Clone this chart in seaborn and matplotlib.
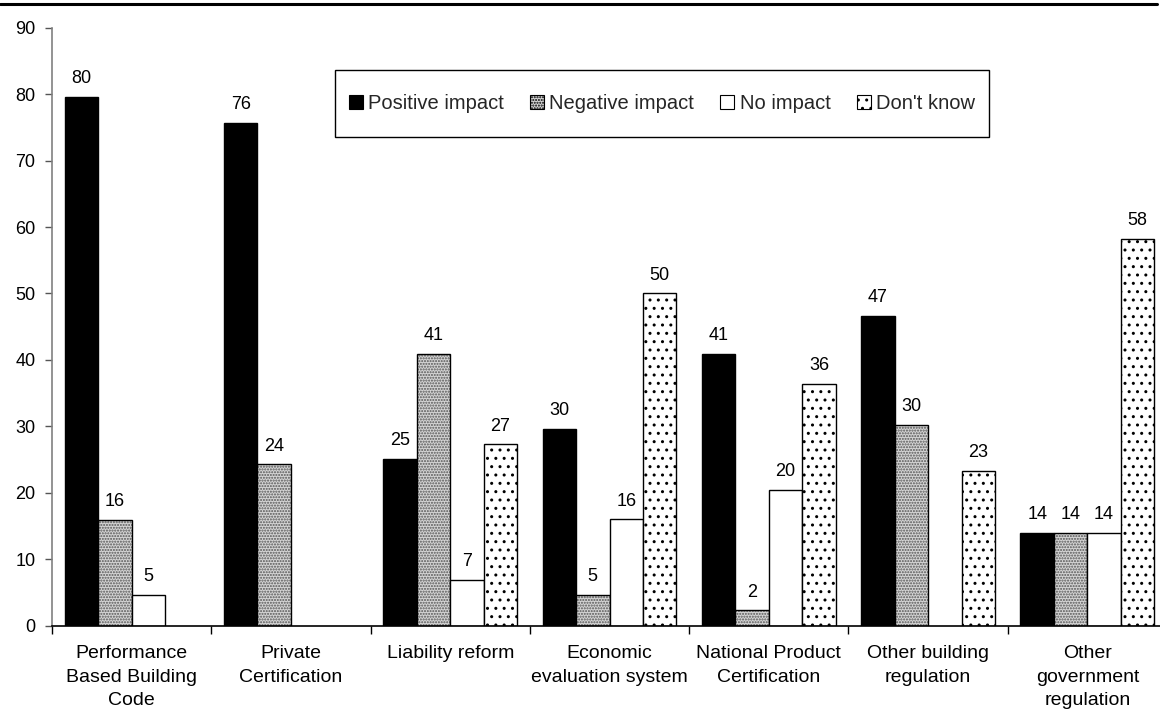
import matplotlib
matplotlib.use("Agg")
import matplotlib.pyplot as plt
from matplotlib.patches import Patch, Rectangle
from matplotlib.lines import Line2D
import seaborn as sns
import pandas as pd
import numpy as np

categories = [
    "Performance\nBased Building\nCode",
    "Private\nCertification",
    "Liability reform",
    "Economic\nevaluation system",
    "National Product\nCertification",
    "Other building\nregulation",
    "Other\ngovernment\nregulation",
]
series = ["Positive impact", "Negative impact", "No impact", "Don't know"]
positive = [79.6, 75.7, 25.1, 29.6, 40.9, 46.6, 14.0]
negative = [15.9, 24.3, 40.9, 4.6, 2.3, 30.2, 14.0]
no_impact = [4.6, 0.0, 6.9, 16.0, 20.4, 0.0, 14.0]
dont_know = [0.0, 0.0, 27.3, 50.0, 36.4, 23.3, 58.2]
y_ticks = list(range(0, 91, 10))

values = [positive, negative, no_impact, dont_know]
df = pd.DataFrame(
    [(c, s, v) for s, vals in zip(series, values) for c, v in zip(categories, vals)],
    columns=["category", "series", "value"],
)

sns.set_theme(style="white")
plt.rcParams["font.family"] = ["Liberation Sans", "DejaVu Sans"]
plt.rcParams["hatch.linewidth"] = 1.0

W, H = 1160, 712
fig = plt.figure(figsize=(W / 100, H / 100), dpi=100)
ax = fig.add_axes([52 / W, 1 - 625.7 / H, (1167 - 52) / W, (625.7 - 27.7) / H])

faces = ["black", "#d4d4d4", "white", "white"]
hatches = [None, "......", None, ".."]
hatch_colors = ["black", "#555555", "black", "black"]

sns.barplot(
    data=df, x="category", y="value", hue="series", order=categories,
    hue_order=series, palette=faces, width=0.84, errorbar=None,
    edgecolor="black", linewidth=1.0, saturation=1, legend=False, ax=ax,
)

for container, face, hatch, hc, vals in zip(ax.containers, faces, hatches, hatch_colors, values):
    for bar, v in zip(container, vals):
        bar.set_facecolor(face)
        bar.set_edgecolor("black")
        if hatch:
            bar.set_hatch(hatch)
            bar._hatch_color = matplotlib.colors.to_rgba(hc)
        if v == 0:
            bar.set_visible(False)
    labels = [f"{v:.0f}" if v > 0 else "" for v in vals]
    ax.bar_label(container, labels=labels, padding=7, fontsize=13, color="black")

ax.set_ylim(0, 90)
ax.set_xlim(-0.5, len(categories) - 0.5)
ax.set_yticks(y_ticks)
ax.tick_params(axis="y", which="major", left=True, length=5, width=1, color="#555555",
               labelsize=13, pad=7, labelcolor="black")
ax.set_xticks(range(len(categories)))
ax.set_xticklabels(categories, fontsize=14, linespacing=1.5)
ax.tick_params(axis="x", which="major", bottom=False, length=0, pad=14, labelcolor="black")
ax.set_xticks(np.arange(-0.5, len(categories), 1.0), minor=True)
ax.tick_params(axis="x", which="minor", bottom=True, length=6, width=1, color="black")
ax.set_xlabel("")
ax.set_ylabel("")

for side in ["top", "right"]:
    ax.spines[side].set_visible(False)
ax.spines["left"].set_color("#808080")
ax.spines["left"].set_linewidth(1.2)
ax.spines["bottom"].set_color("black")
ax.spines["bottom"].set_linewidth(1.2)

# legend entries in one row, with a plain rectangular frame drawn around them
handles = [Patch(facecolor=f, edgecolor="black", hatch=h, linewidth=0.8)
           for f, h in zip(faces, hatches)]
leg = fig.legend(
    handles, series, ncol=4, loc="center left", bbox_to_anchor=(349 / W, 1 - 103.5 / H),
    frameon=False, fontsize=14.5, handlelength=0.7, handleheight=0.7,
    handletextpad=0.25, columnspacing=1.3, borderpad=0, borderaxespad=0,
)
leg.set_zorder(6)
fig.canvas.draw()
bb = leg.get_window_extent()
x0 = 335
x1 = bb.x1 + 14
fig.add_artist(Rectangle((x0 / W, 1 - 137 / H), (x1 - x0) / W, 67 / H,
                         transform=fig.transFigure, facecolor="white",
                         edgecolor="black", linewidth=1.0, zorder=5))

fig.add_artist(Line2D([0, 1157 / W], [1 - 3.5 / H, 1 - 3.5 / H],
                      transform=fig.transFigure, color="black", linewidth=2.2))

fig.savefig("out.png", dpi=100)
